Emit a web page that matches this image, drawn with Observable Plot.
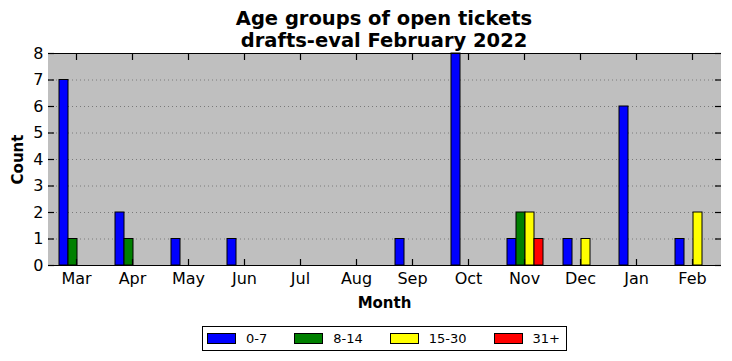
<!DOCTYPE html>
<html><head><meta charset="utf-8">
<script src="https://cdn.jsdelivr.net/npm/d3@7"></script>
<script src="https://cdn.jsdelivr.net/npm/@observablehq/plot@0.6"></script>
<style>
body{margin:0;background:#fff;font-family:"DejaVu Sans",sans-serif;}
#wrap{position:relative;width:732px;height:361px;overflow:hidden;}
#title{position:absolute;left:0;top:8px;width:768px;text-align:center;font-weight:bold;font-size:19.5px;line-height:22px;color:#000;}
#chart{position:absolute;left:0;top:0;}
#legend{position:absolute;left:202px;top:326px;width:363px;height:23px;border:1px solid #000;display:flex;align-items:center;font-size:13px;box-sizing:content-box;}
.item{display:flex;align-items:center;margin-left:4px;margin-right:23px;white-space:nowrap;flex-shrink:0;}
.sw{width:27px;height:9px;border:1px solid #000;margin-right:10px;flex-shrink:0;}
</style></head>
<body><div id="wrap"><div id="title">Age groups of open tickets<br>drafts-eval February 2022</div><div id="chart"></div><div id="legend"></div></div>
<script>
const months = ["Mar","Apr","May","Jun","Jul","Aug","Sep","Oct","Nov","Dec","Jan","Feb"];
const groups = ["0-7","8-14","15-30","31+"];
const colors = ["#0000ff","#008000","#ffff00","#ff0000"];
const count0_7   = [7,2,1,1,0,0,1,8,1,1,6,1];
const count8_14  = [1,1,0,0,0,0,0,0,2,0,0,0];
const count15_30 = [0,0,0,0,0,0,0,0,2,1,0,2];
const count31    = [0,0,0,0,0,0,0,0,1,0,0,0];
const yTicks = [0,1,2,3,4,5,6,7,8];

const series = [count0_7, count8_14, count15_30, count31];
const rows = [];
months.forEach((m, i) => groups.forEach((g, j) => rows.push({month: m, group: g, count: series[j][i]})));

const blank = () => "";
const tickColor = "#000";
const chart = Plot.plot({
  width: 732, height: 314,
  marginTop: 53, marginBottom: 49, marginLeft: 46, marginRight: 10,
  style: {fontFamily: "DejaVu Sans", fontSize: "16px", color: "#000", background: "transparent"},
  fx: {domain: months, padding: 0, label: null},
  x: {domain: groups, paddingInner: 0, paddingOuter: 1, axis: null},
  y: {domain: [0, 8], label: null},
  color: {domain: groups, range: colors},
  marks: [
    Plot.frame({fill: "#bfbfbf", stroke: "#bfbfbf", strokeWidth: 1}),
    Plot.gridY({ticks: yTicks.slice(1, -1), stroke: "#7a7a7a", strokeOpacity: 1, strokeDasharray: "1,3"}),
    Plot.barY(rows, {fx: "month", x: "group", y: "count", fill: "group", stroke: "#000", strokeWidth: 1, inset: 0, dx: 1}),
    Plot.ruleY([0, 8], {stroke: "#000", strokeWidth: 1.2}),
    Plot.axisY({anchor: "left", ticks: yTicks, tickSize: 0, tickPadding: 5, line: true, label: null, fontSize: 16}),
    Plot.axisY({anchor: "right", ticks: yTicks, tickSize: 0, tickFormat: blank, line: true, label: null}),
    Plot.axisFx({anchor: "bottom", tickSize: 0, tickPadding: 7, label: null, fontSize: 16}),
    Plot.axisY({anchor: "left", ticks: yTicks, tickSize: 6, dx: 6, tickFormat: blank, label: null, stroke: tickColor, strokeWidth: 1.2}),
    Plot.axisY({anchor: "right", ticks: yTicks, tickSize: 6, dx: -6, tickFormat: blank, label: null, stroke: tickColor, strokeWidth: 1.2}),
    Plot.axisFx({anchor: "bottom", tickSize: 6, dy: -6, tickFormat: blank, label: null, stroke: tickColor, strokeWidth: 1.2}),
    Plot.axisFx({anchor: "top", tickSize: 6, dy: 6, tickFormat: blank, label: null, stroke: tickColor, strokeWidth: 1.2}),
    Plot.text(["Count"], {fx: () => "Mar", frameAnchor: "left", dx: -30, rotate: -90, fontWeight: "bold", fontSize: 15, textAnchor: "middle", lineAnchor: "middle"}),
    Plot.text(["Month"], {fx: () => "Aug", frameAnchor: "bottom-right", dy: 38, fontWeight: "bold", fontSize: 15, textAnchor: "middle", lineAnchor: "middle"})
  ]
});
document.getElementById("chart").append(chart);

const legend = document.getElementById("legend");
groups.forEach((g, i) => {
  const it = document.createElement("div");
  it.className = "item";
  const sw = document.createElement("div");
  sw.className = "sw";
  sw.style.background = colors[i];
  const lb = document.createElement("span");
  lb.textContent = g;
  it.append(sw, lb);
  legend.append(it);
});
</script></body></html>
